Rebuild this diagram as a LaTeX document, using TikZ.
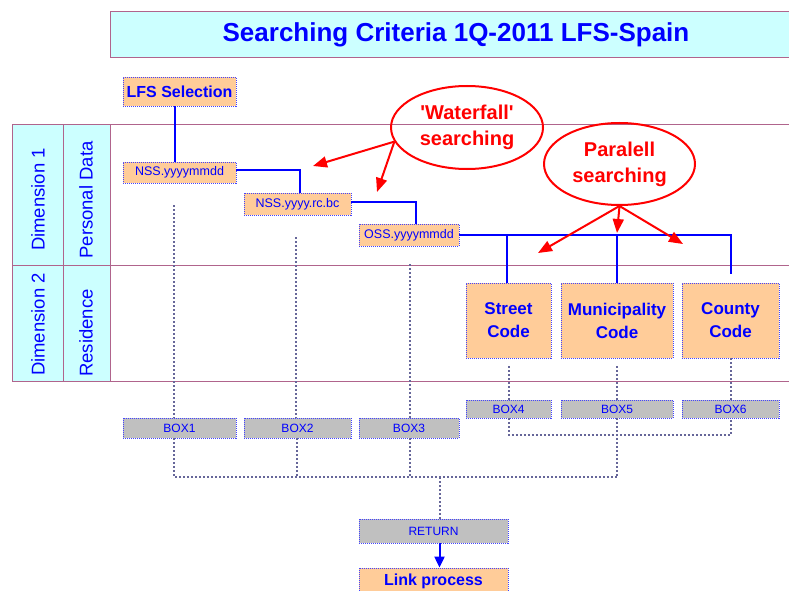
\documentclass[tikz,border=0pt]{standalone}
\usepackage{fontspec}
\setmainfont{Liberation Sans}
\newfontfamily\rawsans{Liberation Sans}[Ligatures=TeXOff]
\usetikzlibrary{shapes.geometric,arrows.meta,calc}
\definecolor{cyanbg}{HTML}{CCFFFF}
\definecolor{framec}{HTML}{B0648C}
\definecolor{peach}{HTML}{FFCC99}
\definecolor{greybox}{HTML}{C0C0C0}
\definecolor{dotc}{HTML}{666699}
\definecolor{txtblue}{HTML}{0000FF}
\definecolor{bord}{HTML}{4444FF}
\tikzset{
  box/.style={draw=bord, line width=0.8pt, dash pattern=on 1pt off 1pt, inner sep=0pt, text=txtblue, align=center},
  obox/.style={box, fill=peach},
  gbox/.style={box, fill=greybox, font=\fontsize{12}{14}\selectfont},
  small/.style={font=\fontsize{12.5}{14}\selectfont},
  big/.style={font=\bfseries\fontsize{17}{23}\selectfont},
  conn/.style={draw=blue, line width=2pt},
  dots/.style={draw=dotc, line width=2pt, dash pattern=on 2pt off 2pt},
  redarr/.style={draw=red, line width=2pt, -{Triangle[length=14pt,width=11pt]}},
  callout/.style={ellipse, draw=red, line width=2pt, text=red, font=\rawsans\bfseries\fontsize{20}{26}\selectfont, align=center, inner sep=0pt},
  side/.style={rotate=90, text=txtblue, font=\fontsize{18.5}{20}\selectfont, inner sep=0pt},
  frameline/.style={draw=framec, line width=1pt}
}
\begin{document}
\begin{tikzpicture}[x=1pt,y=-1pt]
\fill[white] (0,0) rectangle (789,591);
\useasboundingbox (0,0) rectangle (789,591);
% title
\node[draw=framec, line width=1pt, fill=cyanbg, minimum width=692pt, minimum height=46pt, inner sep=0pt,
      text=txtblue, font=\bfseries\fontsize{26}{30}\selectfont] (title) at (456,35) {Searching Criteria 1Q-2011 LFS-Spain};
% table
\fill[cyanbg] (12,125) rectangle (110,381);
\draw[frameline] (12,125) -- (789,125);
\draw[frameline] (12,265) -- (789,265);
\draw[frameline] (12,381) -- (789,381);
\draw[frameline] (12,125) -- (12,381);
\draw[frameline] (63,125) -- (63,381);
\draw[frameline] (110,125) -- (110,381);
\node[side] (d1) at (38,199.5) {Dimension 1};
\node[side] (pd) at (86,200) {Personal Data};
\node[side] (d2) at (38,324.5) {Dimension 2};
\node[side] (res) at (86,333) {Residence};
% boxes
\node[obox, minimum width=113pt, minimum height=29pt, font=\bfseries\fontsize{16}{18}\selectfont] (lfs) at (179.5,91.5) {LFS Selection};
\node[obox, small, minimum width=113pt, minimum height=21pt] (nss1) at (179.5,172.5) {NSS.yyyymmdd};
\node[obox, small, minimum width=107pt, minimum height=22pt] (nss2) at (297.5,204) {NSS.yyyy.rc.bc};
\node[obox, small, minimum width=100pt, minimum height=22pt] (oss) at (409,235) {OSS.yyyymmdd};
\node[obox, big, minimum width=85pt, minimum height=75pt] (street) at (508.5,320.5) {Street\\Code};
\node[obox, big, minimum width=112pt, minimum height=75pt] (muni) at (617,320.5) {Municipality\\Code};
\node[obox, big, minimum width=97pt, minimum height=75pt] (county) at (730.5,320.5) {County\\Code};
\node[gbox, minimum width=113pt, minimum height=20pt] (b1) at (179.5,428) {BOX1};
\node[gbox, minimum width=107pt, minimum height=20pt] (b2) at (297.5,428) {BOX2};
\node[gbox, minimum width=100pt, minimum height=20pt] (b3) at (409,428) {BOX3};
\node[gbox, minimum width=85pt, minimum height=18pt] (b4) at (508.5,409) {BOX4};
\node[gbox, minimum width=112pt, minimum height=18pt] (b5) at (617,409) {BOX5};
\node[gbox, minimum width=97pt, minimum height=18pt] (b6) at (730.5,409) {BOX6};
\node[gbox, minimum width=149pt, minimum height=24pt] (ret) at (433.5,531) {RETURN};
\node[obox, minimum width=149pt, minimum height=26pt, font=\bfseries\fontsize{16}{18}\selectfont] (link) at (433.5,581) {Link process};
% blue connectors
\draw[conn] ([xshift=-4.5pt]lfs.south) -- ([xshift=-4.5pt]nss1.north);
\draw[conn] ([yshift=3pt]nss1.east) -| ([xshift=2.5pt]nss2.north);
\draw[conn] ([yshift=2pt]nss2.east) -| ([xshift=7pt]oss.north);
\draw[conn] (oss.east) -| ([yshift=9pt]county.north);
\draw[conn] ([xshift=-1.5pt]street.north) -- ([xshift=-1.5pt]street.north |- oss.east);
\draw[conn] (muni.north) -- (muni.north |- oss.east);
% dotted connectors
\coordinate (s1) at (174,205);
\coordinate (s2) at (296,237);
\coordinate (s3) at (410,264);
\coordinate (m5) at (617,477);
\coordinate (jr) at (440,477);
\draw[dots] (s1) -- (s1 |- b1.north);
\draw[dots] (s2) -- (s2 |- b2.north);
\draw[dots] (s3) -- (s3 |- b3.north);
\draw[dots] (s1 |- b1.south) |- (m5);
\draw[dots] ([xshift=-0.5pt]b2.south) -- ([xshift=-0.5pt]b2.south |- m5);
\draw[dots] ([xshift=1pt]b3.south) -- ([xshift=1pt]b3.south |- m5);
\draw[dots] ([yshift=-8pt]street.south) -- (b4.north);
\draw[dots] ([yshift=-8pt]muni.south) -- (b5.north);
\draw[dots] (county.south) -- (b6.north);
\coordinate (h4) at (508.5,435);
\draw[dots] (b4.south) -- (h4) -| (b6.south);
\draw[dots] (b5.south) -- (m5);
\draw[dots] (jr) -- (jr |- ret.north);
% blue arrow
\draw[draw=blue, line width=2pt, -{Triangle[length=11pt,width=10pt]}] ([xshift=6pt]ret.south) -- ([xshift=6pt]link.north);
% callouts
\node[callout, minimum width=152pt, minimum height=83pt] (wf) at (467,127.5) {'Waterfall'\\searching};
\node[callout, minimum width=151pt, minimum height=82pt] (pl) at (619.5,164) {Paralell\\searching};
\coordinate (t1) at (313,166);
\coordinate (t2) at (377,192);
\coordinate (t3) at (538,253);
\coordinate (t4) at (617,233);
\coordinate (t5) at (683,244);
\draw[redarr] (wf.191) -- (t1);
\draw[redarr] (wf.191) -- (t2);
\draw[redarr] (pl.south) -- (t3);
\draw[redarr] (pl.south) -- (t4);
\draw[redarr] (pl.south) -- (t5);
\end{tikzpicture}
\end{document}
